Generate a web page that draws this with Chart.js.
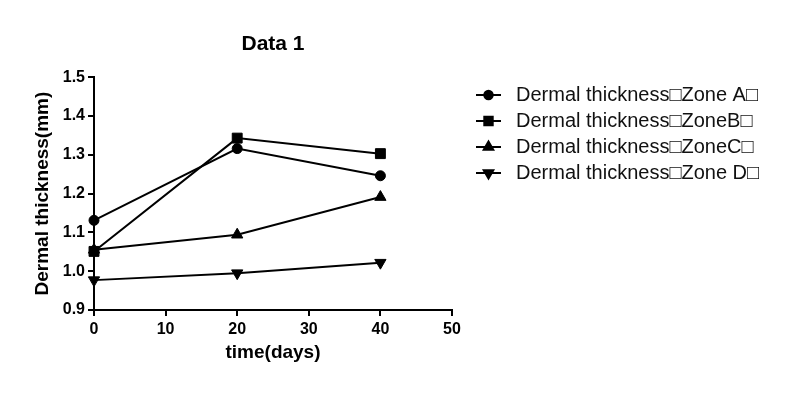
<!DOCTYPE html>
<html>
<head>
<meta charset="utf-8">
<script src="https://cdn.jsdelivr.net/npm/chart.js@4.4.0/dist/chart.umd.min.js"></script>
<style>
  body { margin: 0; background: #fff; }
  #wrap { width: 800px; height: 398px; }
</style>
</head>
<body>
<div id="wrap"><canvas id="chart" width="800" height="398"></canvas></div>
<script>
// values
const days = [0, 20, 40];
const zoneA = [1.131, 1.316, 1.246];
const zoneB = [1.051, 1.343, 1.303];
const zoneC = [1.055, 1.094, 1.191];
const zoneD = [0.977, 0.995, 1.022];
const seriesNames = [
  "Dermal thickness\u25A1Zone A\u25A1",
  "Dermal thickness\u25A1ZoneB\u25A1",
  "Dermal thickness\u25A1ZoneC\u25A1",
  "Dermal thickness\u25A1Zone D\u25A1",
];
const xTicks = [0, 10, 20, 30, 40, 50];
const yTicks = [0.9, 1.0, 1.1, 1.2, 1.3, 1.4, 1.5];

const FONT = "Arial, 'Liberation Sans', sans-serif";

function toPoints(ys) {
  return days.map((d, i) => ({ x: d, y: ys[i] }));
}

// marker look per series
const markers = [
  { style: "circle", radius: 5, rotation: 0 },
  { style: "rect", radius: 7, rotation: 0 },
  { style: "triangle", radius: 6.5, rotation: 0 },
  { style: "triangle", radius: 6.5, rotation: 180 },
];

function makeDataset(label, ys, m) {
  return {
    label: label,
    data: toPoints(ys),
    borderColor: "#000",
    backgroundColor: "#000",
    borderWidth: 2,
    tension: 0,
    pointStyle: m.style,
    pointRadius: m.radius,
    pointRotation: m.rotation,
    pointBackgroundColor: "#000",
    pointBorderColor: "#000",
    pointBorderWidth: 1,
    clip: false,
  };
}

// legend: short line with the marker in the middle, then the label
const sideLegend = {
  id: "sideLegend",
  afterDraw(chart) {
    const ctx = chart.ctx;
    const x0 = 476, x1 = 501, textX = 516;
    const y0 = 95, step = 26;
    ctx.save();
    chart.data.datasets.forEach((ds, i) => {
      const y = y0 + i * step;
      ctx.strokeStyle = "#000";
      ctx.lineWidth = 2;
      ctx.beginPath();
      ctx.moveTo(x0, y);
      ctx.lineTo(x1, y);
      ctx.stroke();
      ctx.fillStyle = "#000";
      Chart.helpers.drawPoint(ctx, {
        pointStyle: ds.pointStyle,
        radius: ds.pointRadius * 0.85,
        rotation: ds.pointRotation,
        borderWidth: 1,
      }, (x0 + x1) / 2, y);
      ctx.fillStyle = "#111";
      ctx.font = "20px " + FONT;
      ctx.textBaseline = "middle";
      ctx.textAlign = "left";
      ctx.fillText(ds.label, textX, y);
    });
    ctx.restore();
  },
};

new Chart(document.getElementById("chart"), {
  type: "line",
  data: {
    datasets: [
      makeDataset(seriesNames[0], zoneA, markers[0]),
      makeDataset(seriesNames[1], zoneB, markers[1]),
      makeDataset(seriesNames[2], zoneC, markers[2]),
      makeDataset(seriesNames[3], zoneD, markers[3]),
    ],
  },
  options: {
    responsive: false,
    animation: false,
    devicePixelRatio: 1,
    layout: { padding: { left: 0, right: 348, top: 0, bottom: 0 } },
    plugins: {
      legend: { display: false },
      tooltip: { enabled: false },
      title: {
        display: true,
        text: "Data 1",
        fullSize: false,
        color: "#000",
        font: { family: FONT, size: 21, weight: "bold" },
        padding: { top: 32, bottom: 20 },
      },
    },
    scales: {
      x: {
        type: "linear",
        min: xTicks[0],
        max: xTicks[xTicks.length - 1],
        afterBuildTicks: (s) => { s.ticks = xTicks.map((v) => ({ value: v })); },
        afterFit: (s) => { s.height = 88; },
        grid: { drawOnChartArea: false, drawTicks: true, tickLength: 6, color: "#000", lineWidth: 2 },
        border: { display: true, color: "#000", width: 2 },
        ticks: { color: "#000", padding: 4, maxRotation: 0, font: { family: FONT, size: 16, weight: "bold" } },
        title: {
          display: true,
          text: "time(days)",
          color: "#000",
          font: { family: FONT, size: 19, weight: "bold" },
          padding: { top: 0, bottom: 34 },
        },
      },
      y: {
        type: "linear",
        min: yTicks[0],
        max: yTicks[yTicks.length - 1],
        afterBuildTicks: (s) => { s.ticks = yTicks.map((v) => ({ value: v })); },
        afterFit: (s) => { s.width = 94; },
        grid: { drawOnChartArea: false, drawTicks: true, tickLength: 6, color: "#000", lineWidth: 2 },
        border: { display: true, color: "#000", width: 2 },
        ticks: {
          color: "#000",
          padding: 3,
          font: { family: FONT, size: 16, weight: "bold" },
          callback: (v) => Number(v).toFixed(1),
        },
        title: {
          display: true,
          text: "Dermal thickness(mm)",
          color: "#000",
          font: { family: FONT, size: 19, weight: "bold" },
          padding: { top: 31, bottom: 0 },
        },
      },
    },
  },
  plugins: [sideLegend],
});
</script>
</body>
</html>
